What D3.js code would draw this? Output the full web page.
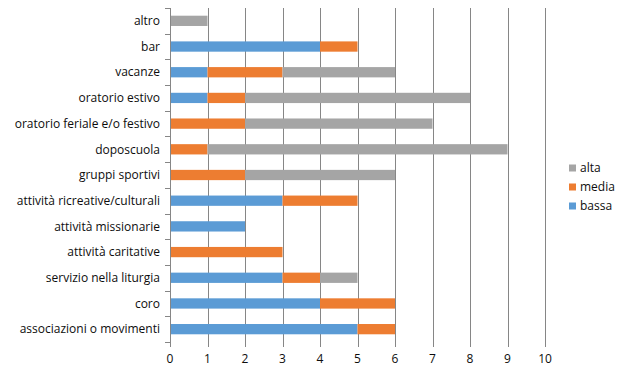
<!DOCTYPE html>
<html>
<head>
<meta charset="utf-8">
<script src="https://cdn.jsdelivr.net/npm/d3@7"></script>
<style>
  body { margin: 0; background: #fff; }
  text { font-family: "Open Sans", sans-serif; fill: #0d0d0d; }
</style>
</head>
<body>
<div id="chart"></div>
<script>
// categories, top to bottom as in the chart
const categories = [
  "altro", "bar", "vacanze", "oratorio estivo", "oratorio feriale e/o festivo",
  "doposcuola", "gruppi sportivi", "attività ricreative/culturali",
  "attività missionarie", "attività caritative", "servizio nella liturgia",
  "coro", "associazioni o movimenti"
];
const bassa = [0, 4, 1, 1, 0, 0, 0, 3, 2, 0, 3, 4, 5];
const media = [0, 1, 2, 1, 2, 1, 2, 2, 0, 3, 1, 2, 1];
const alta  = [1, 0, 3, 6, 5, 8, 4, 0, 0, 0, 1, 0, 0];
const seriesNames = ["bassa", "media", "alta"];
const colors = ["#5B9BD5", "#ED7D31", "#A5A5A5"];
const xTicks = [0, 1, 2, 3, 4, 5, 6, 7, 8, 9, 10];

const width = 631, height = 377;
const margin = { top: 8, right: 86, bottom: 35, left: 170 };

const svg = d3.select("#chart").append("svg")
  .attr("width", width)
  .attr("height", height);

const x = d3.scaleLinear().domain([0, 10]).range([margin.left, width - margin.right]);
const y = d3.scaleBand().domain(categories)
  .range([margin.top, height - margin.bottom]).paddingInner(0.6).paddingOuter(0.3);

// vertical gridlines (extend a bit below = outside tick marks)
svg.append("g").selectAll("line")
  .data(xTicks)
  .enter().append("line")
  .attr("x1", d => Math.round(x(d)) + 0.5)
  .attr("x2", d => Math.round(x(d)) + 0.5)
  .attr("y1", margin.top)
  .attr("y2", height - margin.bottom + 5)
  .attr("stroke", "#868686")
  .attr("stroke-width", 1);

// stacked data
const table = categories.map((c, i) => ({ cat: c, bassa: bassa[i], media: media[i], alta: alta[i] }));
const stack = d3.stack().keys(seriesNames)(table);

svg.append("g").selectAll("g")
  .data(stack)
  .enter().append("g")
  .attr("fill", (d, i) => colors[i])
  .selectAll("rect")
  .data(d => d)
  .enter().append("rect")
  .attr("x", d => x(d[0]))
  .attr("y", d => y(d.data.cat))
  .attr("width", d => x(d[1]) - x(d[0]))
  .attr("height", y.bandwidth());

// y axis: line + tick marks between categories
const yAxis = svg.append("g");
yAxis.append("line")
  .attr("x1", margin.left + 0.5).attr("x2", margin.left + 0.5)
  .attr("y1", margin.top).attr("y2", height - margin.bottom)
  .attr("stroke", "#868686");
const bounds = d3.range(categories.length + 1).map(i => margin.top + i * (height - margin.top - margin.bottom) / categories.length);
yAxis.selectAll("line.tk")
  .data(bounds)
  .enter().append("line")
  .attr("class", "tk")
  .attr("x1", margin.left - 5).attr("x2", margin.left)
  .attr("y1", d => Math.round(d) + 0.5).attr("y2", d => Math.round(d) + 0.5)
  .attr("stroke", "#868686");

yAxis.selectAll("text")
  .data(categories)
  .enter().append("text")
  .attr("x", margin.left - 10)
  .attr("y", d => y(d) + y.bandwidth() / 2)
  .attr("dy", "0.35em")
  .attr("text-anchor", "end")
  .attr("font-size", "12px")
  .text(d => d);

// x tick labels
svg.append("g").selectAll("text")
  .data(xTicks)
  .enter().append("text")
  .attr("x", d => x(d))
  .attr("y", height - margin.bottom + 17)
  .attr("dy", "0.35em")
  .attr("text-anchor", "middle")
  .attr("font-size", "12px")
  .text(d => d);

// legend (alta on top)
const legendOrder = [2, 1, 0];
const legend = svg.append("g").selectAll("g")
  .data(legendOrder)
  .enter().append("g")
  .attr("transform", (d, i) => `translate(569, ${168 + i * 19})`);
legend.append("rect")
  .attr("x", 0).attr("y", -3.5)
  .attr("width", 7).attr("height", 7)
  .attr("fill", d => colors[d]);
legend.append("text")
  .attr("x", 11).attr("y", 0)
  .attr("dy", "0.35em")
  .attr("font-size", "12px")
  .text(d => seriesNames[d]);
</script>
</body>
</html>
